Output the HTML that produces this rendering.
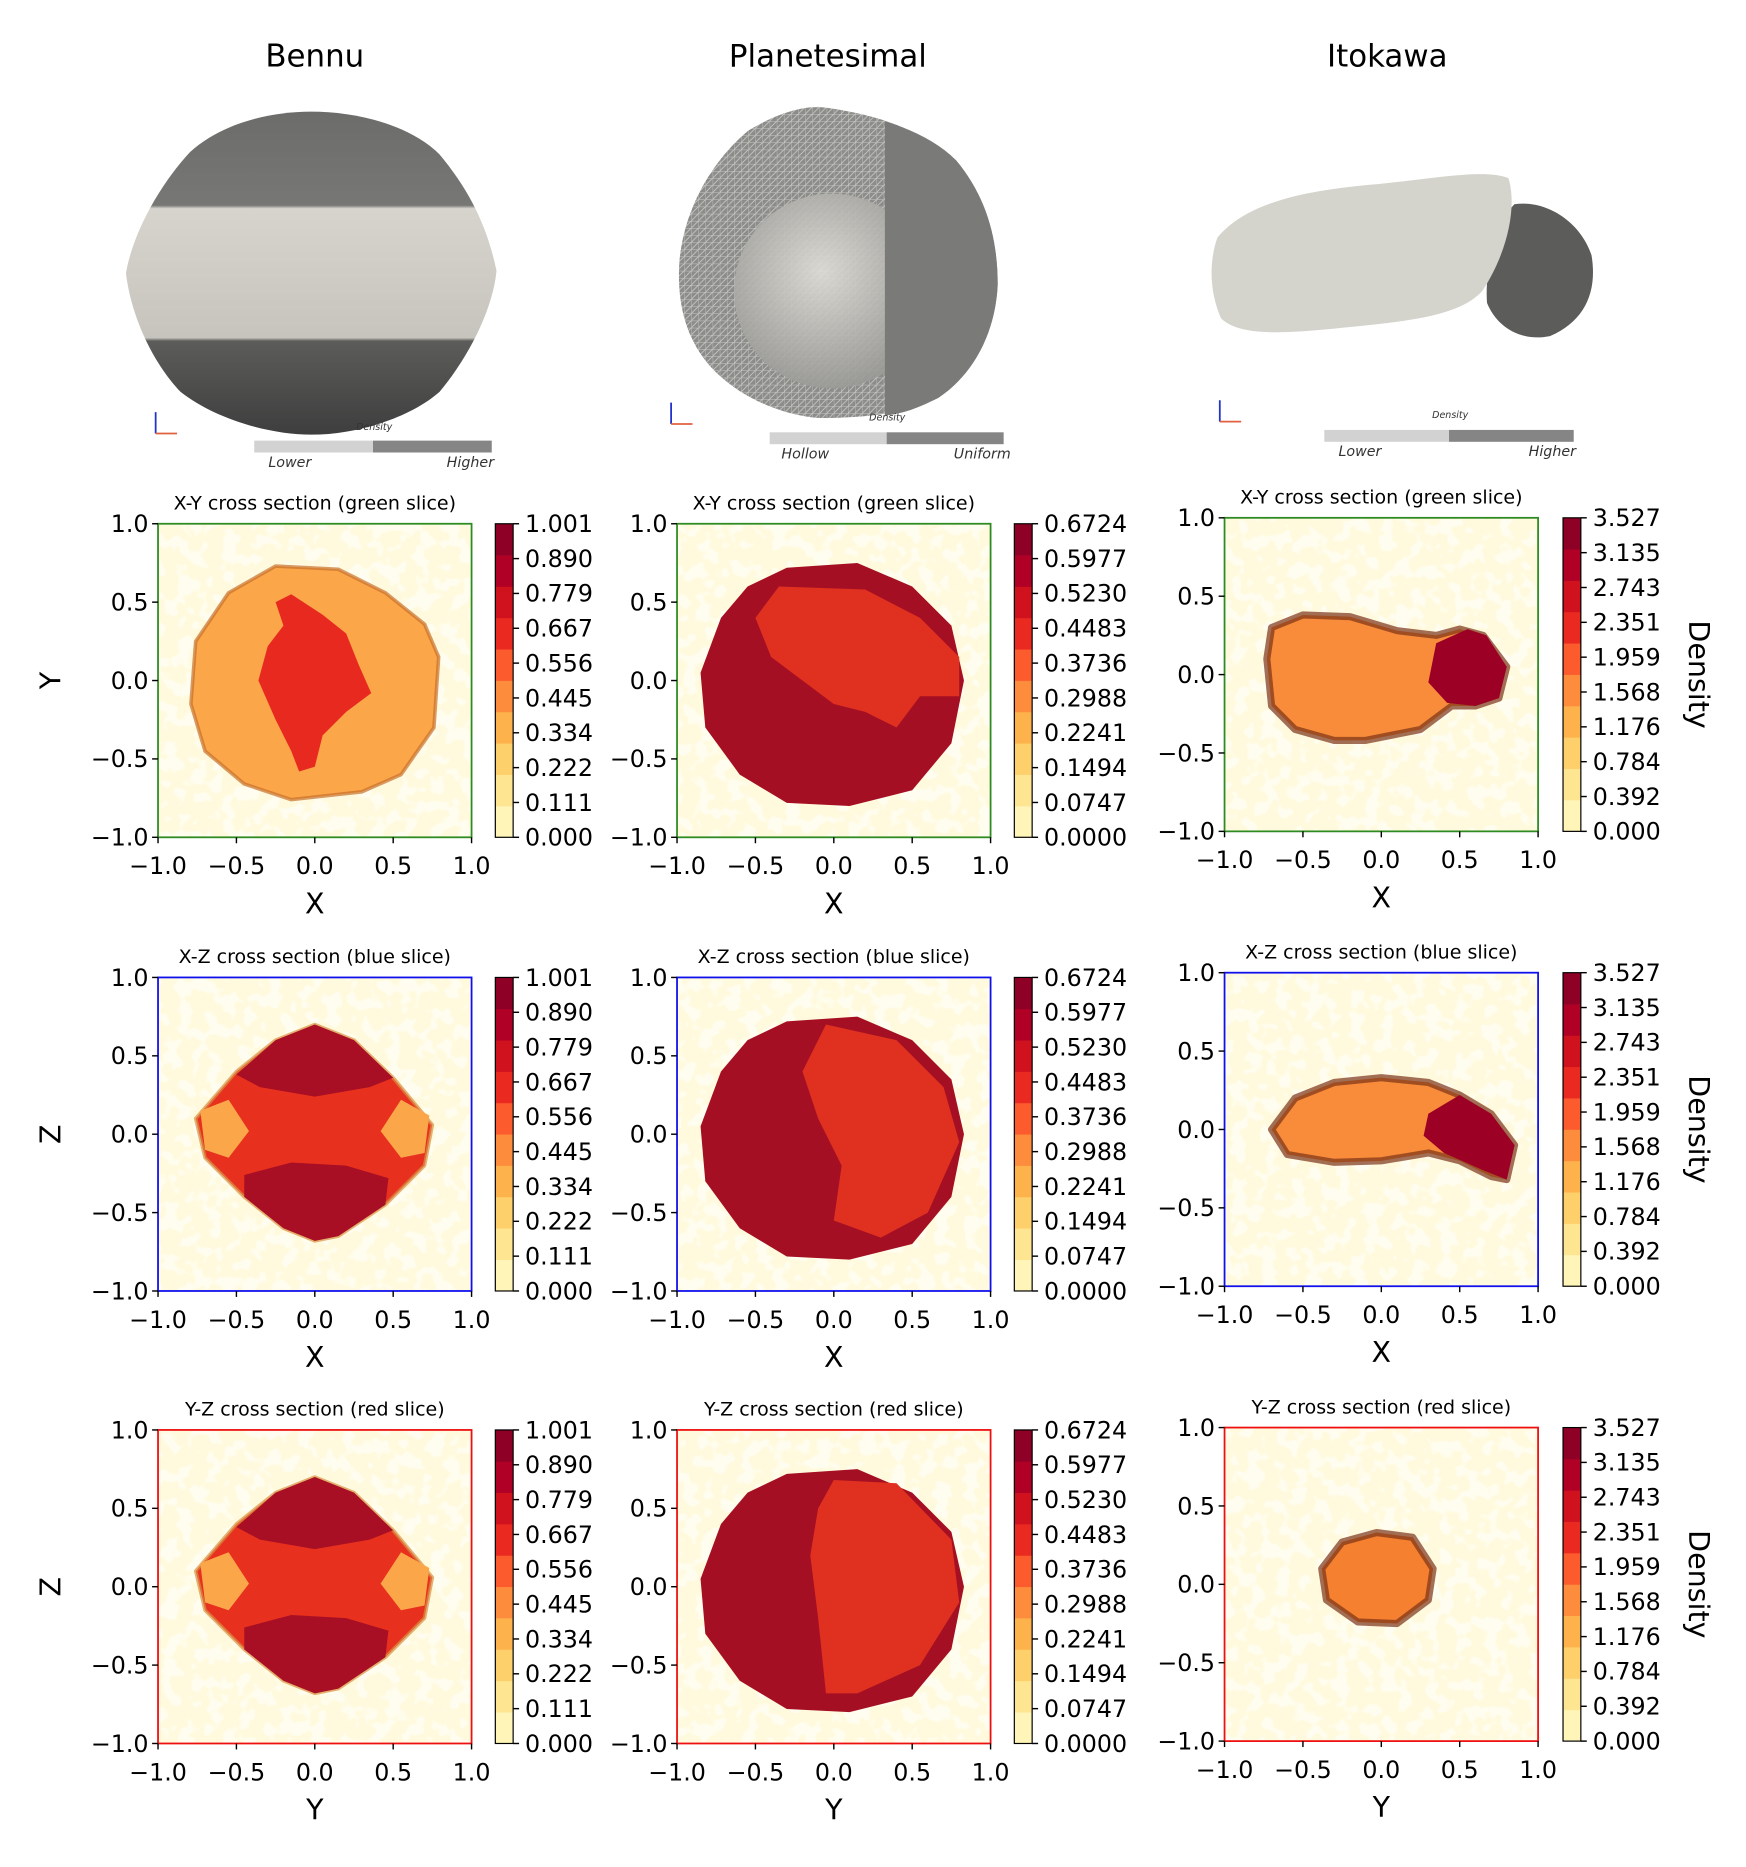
<!DOCTYPE html>
<html><head><meta charset="utf-8"><style>
html,body{margin:0;padding:0;background:#fff;}
svg{display:block;font-family:"DejaVu Sans","Liberation Sans",sans-serif;}
</style></head><body>
<svg id="fig" width="1746" height="1867" viewBox="0 0 1470 1572" xmlns="http://www.w3.org/2000/svg">
<defs>
<filter id="speck" x="0" y="0" width="1" height="1">
<feTurbulence type="fractalNoise" baseFrequency="0.08" numOctaves="2" seed="3"/>
<feColorMatrix type="matrix" values="0 0 0 0 1  0 0 0 0 0.955  0 0 0 0 0.72  0 0 0 -10 6.0"/>
</filter>
<linearGradient id="bennuG" x1="0" y1="0" x2="0" y2="1">
<stop offset="0" stop-color="#6c6c6a"/><stop offset="0.29" stop-color="#777775"/>
<stop offset="0.3" stop-color="#d6d4cc"/><stop offset="0.7" stop-color="#c6c4bc"/>
<stop offset="0.71" stop-color="#5c5c5a"/><stop offset="1" stop-color="#3e3e3e"/></linearGradient>
<radialGradient id="sphG" cx="0.45" cy="0.4" r="0.6"><stop offset="0" stop-color="#e0ded8"/><stop offset="1" stop-color="#9a9a96"/></radialGradient>
<pattern id="mesh" width="6" height="6" patternUnits="userSpaceOnUse"><rect width="6" height="6" fill="#8c8c8a"/><path d="M0 0H6M0 0V6M0 6L6 0" stroke="#c9c9c5" stroke-width="0.7"/></pattern>
</defs>
<g id="renders"></g>
<g id="plots"></g>
</svg>
<script>
// ---- data ----
const columnTitles = ["Bennu", "Planetesimal", "Itokawa"];
const axisTicks = [-1.0, -0.5, 0.0, 0.5, 1.0];
const axisTickLabels = ["\u22121.0", "\u22120.5", "0.0", "0.5", "1.0"];
const cbarBennu = ["0.000","0.111","0.222","0.334","0.445","0.556","0.667","0.779","0.890","1.001"];
const cbarPlan = ["0.0000","0.0747","0.1494","0.2241","0.2988","0.3736","0.4483","0.5230","0.5977","0.6724"];
const cbarItok = ["0.000","0.392","0.784","1.176","1.568","1.959","2.351","2.743","3.135","3.527"];
const bandColors = ["#fff5b8","#fee592","#fed06c","#feb24c","#fd8d3c","#fc5b2e","#ea2a20","#d0121f","#b00026","#8f0026"];
const sliceTitles = ["X-Y cross section (green slice)","X-Z cross section (blue slice)","Y-Z cross section (red slice)"];
const sliceFrame = ["#2e8b22","#1010ee","#ee1010"];
const xLabels = ["X","X","Y"];
const yLabels = ["Y","Z","Z"];
// shape outlines (data units)
const bennuXYOuter = [[-0.25,0.73],[0.15,0.71],[0.45,0.56],[0.7,0.36],[0.79,0.15],[0.76,-0.3],[0.55,-0.6],[0.3,-0.71],[-0.15,-0.76],[-0.45,-0.66],[-0.7,-0.45],[-0.79,-0.15],[-0.76,0.25],[-0.55,0.56]];
const bennuXYInner = [[-0.15,0.55],[0.05,0.42],[0.2,0.3],[0.28,0.1],[0.36,-0.08],[0.2,-0.2],[0.05,-0.35],[0.0,-0.55],[-0.1,-0.58],[-0.15,-0.45],[-0.25,-0.25],[-0.36,0.0],[-0.3,0.22],[-0.2,0.35],[-0.25,0.5]];
const bennuXZOuter = [[0,0.7],[0.25,0.6],[0.5,0.36],[0.75,0.06],[0.7,-0.2],[0.45,-0.45],[0.15,-0.65],[0,-0.68],[-0.2,-0.6],[-0.45,-0.4],[-0.7,-0.15],[-0.76,0.1],[-0.5,0.4],[-0.25,0.6]];
const bennuTopCap = [[0,0.7],[0.25,0.6],[0.5,0.36],[0.35,0.3],[0,0.24],[-0.35,0.3],[-0.5,0.38],[-0.25,0.6]];
const bennuBotCap = [[-0.45,-0.26],[-0.15,-0.18],[0.2,-0.2],[0.47,-0.28],[0.45,-0.45],[0.15,-0.65],[0,-0.68],[-0.2,-0.6],[-0.45,-0.4]];
const bennuLobeL = [[-0.73,0.15],[-0.55,0.22],[-0.42,0.02],[-0.55,-0.15],[-0.7,-0.1]];
const bennuLobeR = [[0.73,0.12],[0.55,0.22],[0.42,0.02],[0.55,-0.15],[0.7,-0.12]];
const planOuter = [[-0.3,0.72],[0.15,0.75],[0.5,0.6],[0.75,0.35],[0.83,0.0],[0.75,-0.4],[0.5,-0.7],[0.1,-0.8],[-0.3,-0.78],[-0.6,-0.6],[-0.82,-0.3],[-0.85,0.05],[-0.72,0.4],[-0.55,0.6]];
const planXYRed = [[-0.35,0.6],[0.2,0.58],[0.55,0.4],[0.8,0.15],[0.8,-0.1],[0.55,-0.1],[0.4,-0.3],[0.2,-0.2],[0.0,-0.15],[-0.2,0.0],[-0.4,0.15],[-0.5,0.4]];
const planXZRed = [[-0.05,0.7],[0.4,0.6],[0.7,0.3],[0.8,-0.05],[0.6,-0.5],[0.3,-0.66],[0.0,-0.55],[0.05,-0.2],[-0.1,0.1],[-0.2,0.4]];
const planYZRed = [[0.0,0.68],[0.4,0.66],[0.75,0.3],[0.8,-0.1],[0.55,-0.5],[0.15,-0.68],[-0.05,-0.68],[-0.1,-0.2],[-0.15,0.2],[-0.1,0.5]];
const itokXY = [[-0.7,0.3],[-0.5,0.38],[-0.2,0.37],[0.1,0.28],[0.35,0.25],[0.5,0.29],[0.65,0.25],[0.8,0.05],[0.75,-0.15],[0.6,-0.2],[0.45,-0.2],[0.25,-0.35],[-0.1,-0.42],[-0.3,-0.42],[-0.55,-0.35],[-0.7,-0.2],[-0.73,0.1]];
const itokXYLobe = [[0.35,0.2],[0.55,0.29],[0.67,0.25],[0.8,0.05],[0.75,-0.15],[0.6,-0.2],[0.42,-0.18],[0.3,-0.05]];
const itokXZ = [[-0.7,0.0],[-0.55,0.2],[-0.3,0.3],[0.0,0.33],[0.3,0.3],[0.5,0.22],[0.7,0.1],[0.85,-0.1],[0.8,-0.32],[0.7,-0.3],[0.5,-0.2],[0.3,-0.15],[0.0,-0.2],[-0.3,-0.21],[-0.6,-0.16]];
const itokXZLobe = [[0.3,0.1],[0.5,0.22],[0.7,0.1],[0.85,-0.1],[0.8,-0.32],[0.65,-0.26],[0.4,-0.15],[0.27,-0.04]];
const itokYZ = [[-0.03,0.33],[0.2,0.3],[0.33,0.1],[0.3,-0.1],[0.1,-0.25],[-0.15,-0.24],[-0.35,-0.1],[-0.38,0.1],[-0.25,0.27]];

// ---- layout ----
const NS = "http://www.w3.org/2000/svg";
const colX = [133, 570, 1031];
const rowY = [[441,823,1204],[441,823,1204],[436,819,1202]];
const PW = 264, PH = 264;
function mk(tag, attrs, parent){const e=document.createElementNS(NS,tag);for(const k in attrs)e.setAttribute(k,attrs[k]);parent.appendChild(e);return e;}
const R = document.getElementById("renders"), P = document.getElementById("plots");

const titleX = [265, 697, 1168];
columnTitles.forEach((t,i)=>{const e=mk("text",{x:titleX[i],y:56,"font-size":26,"text-anchor":"middle"},R);e.textContent=t;

});

function render3d(){
 const g1=mk("g",{},R);
 
 
 mk("path",{d:"M262 94 C300 94 345 105 370 130 C395 160 410 190 418 228 C415 260 395 300 370 330 C345 352 300 366 262 366 C225 366 180 352 152 330 C128 305 110 265 106 230 C112 195 135 155 160 128 C185 105 225 94 262 94 Z",fill:"url(#bennuG)"},g1);
 const g2=mk("g",{},R);
 
 
 mk("path",{d:"M690 90 C730 95 770 105 805 135 C830 165 840 200 840 240 C838 280 820 315 790 335 C760 350 720 352 690 352 C660 350 620 335 595 305 C575 280 570 250 572 220 C576 175 600 135 630 110 C650 98 670 90 690 90 Z",fill:"url(#mesh)"},g2);
 mk("circle",{cx:700,cy:245,r:82,fill:"url(#sphG)",opacity:0.9},g2);
 mk("path",{d:"M745 125 L745 102 C770 110 790 120 805 135 C830 165 840 200 840 240 C838 280 820 315 790 335 C770 345 760 348 745 350 Z",fill:"#7a7a78"},g2);
 const g3=mk("g",{},R);
 
 
 mk("path",{d:"M1275 172 C1300 168 1330 185 1340 215 C1345 245 1335 270 1305 283 C1280 288 1260 275 1252 255 C1250 230 1258 190 1275 172 Z",fill:"#5c5c5a"},g3);
 mk("path",{d:"M1025 200 C1050 170 1100 160 1160 155 C1210 150 1250 142 1270 150 C1278 175 1268 215 1248 245 C1230 265 1190 270 1140 275 C1090 280 1045 285 1028 268 C1018 245 1018 220 1025 200 Z",fill:"#d4d3cc"},g3);
 const bars=[[214,371,200,"Lower","Higher",315,362],[648,364,197,"Hollow","Uniform",747,354],[1115,362,210,"Lower","Higher",1221,352]];
 bars.forEach((b,i)=>{
  const g=mk("g",{},R);
  
  
  mk("rect",{x:b[0],y:b[1],width:b[2]/2,height:10,fill:"#d2d2d2"},g);
  mk("rect",{x:b[0]+b[2]/2,y:b[1],width:b[2]/2,height:10,fill:"#858585"},g);
  let t=mk("text",{x:b[5],y:b[6],"font-size":8,"font-style":"italic","text-anchor":"middle",fill:"#333"},g);t.textContent="Density";
  t=mk("text",{x:b[0]+30,y:b[1]+22,"font-size":12,"font-style":"italic","text-anchor":"middle",fill:"#333"},g);t.textContent=b[3];
  t=mk("text",{x:b[0]+b[2]-18,y:b[1]+22,"font-size":12,"font-style":"italic","text-anchor":"middle",fill:"#333"},g);t.textContent=b[4];
 });
 [[131,365],[565,357],[1027,355]].forEach(a=>{
  mk("path",{d:`M${a[0]} ${a[1]} V${a[1]-18}`,stroke:"#2233cc","stroke-width":1.5},R);
  mk("path",{d:`M${a[0]} ${a[1]} H${a[0]+18}`,stroke:"#e06040","stroke-width":1.5},R);
 });
}
render3d();

const shapes = [
 [ [[bennuXYOuter,"#fca64a","#c8702a"],[bennuXYInner,"#e8291f",null]],
   [[bennuXZOuter,"#e8301f","#d89040"],[bennuTopCap,"#a80f24",null],[bennuBotCap,"#a80f24",null],[bennuLobeL,"#fca64a",null],[bennuLobeR,"#fca64a",null]],
   [[bennuXZOuter,"#e8301f","#d89040"],[bennuTopCap,"#a80f24",null],[bennuBotCap,"#a80f24",null],[bennuLobeL,"#fca64a",null],[bennuLobeR,"#fca64a",null]] ],
 [ [[planOuter,"#a50f24",null],[planXYRed,"#e0301f",null]],
   [[planOuter,"#a50f24",null],[planXZRed,"#e0301f",null]],
   [[planOuter,"#a50f24",null],[planYZRed,"#e0301f",null]] ],
 [ [[itokXY,"#f98c3a","#7a3218"],[itokXYLobe,"#9c0024",null]],
   [[itokXZ,"#f98c3a","#7a3218"],[itokXZLobe,"#9c0024",null]],
   [[itokYZ,"#f5802f","#7a3218"]] ]
];
const cbars=[cbarBennu,cbarPlan,cbarItok];
const cbarGap=[20,20,21];

for(let c=0;c<3;c++){
 for(let r=0;r<3;r++){
  const x0=colX[c], y0=rowY[c][r];
  const sx=v=>x0+(v+1)/2*PW, sy=v=>y0+PH-(v+1)/2*PH;
  const g=mk("g",{},P);
  
  
  mk("rect",{x:x0,y:y0,width:PW,height:PH,fill:"#fffdf0"},g);
  mk("rect",{x:x0,y:y0,width:PW,height:PH,filter:"url(#speck)"},g);
  shapes[c][r].forEach(s=>{
   const d="M"+s[0].map(p=>sx(p[0]).toFixed(1)+" "+sy(p[1]).toFixed(1)).join(" L")+" Z";
   const e=mk("path",{d:d,fill:s[1],"stroke-linejoin":"round"},g);
   if(s[2]){e.setAttribute("stroke",s[2]);e.setAttribute("stroke-width",c==2?6:3);e.setAttribute("stroke-opacity",0.7);}
   
   
  });
  const fr=mk("rect",{x:x0,y:y0,width:PW,height:PH,fill:"none",stroke:sliceFrame[r],"stroke-width":1.5},g);
  
  
  let t=mk("text",{x:x0+PW/2,y:y0-12,"font-size":16,"text-anchor":"middle"},g);t.textContent=sliceTitles[r];
  
  
  axisTicks.forEach((v,i)=>{
   mk("line",{x1:sx(v),x2:sx(v),y1:y0+PH,y2:y0+PH+5,stroke:"#000","stroke-width":1.2},g);
   mk("line",{x1:x0,x2:x0-5,y1:sy(v),y2:sy(v),stroke:"#000","stroke-width":1.2},g);
   let a=mk("text",{x:sx(v),y:y0+PH+31,"font-size":20,"text-anchor":"middle"},g);a.textContent=axisTickLabels[i];
   
   
   let b=mk("text",{x:x0-8,y:sy(v)+7,"font-size":20,"text-anchor":"end"},g);b.textContent=axisTickLabels[i];
   
   
  });
  t=mk("text",{x:x0+PW/2,y:y0+PH+64,"font-size":24,"text-anchor":"middle"},g);t.textContent=xLabels[r];
  
  
  if(c===0){t=mk("text",{x:0,y:0,"font-size":24,"text-anchor":"middle",transform:`translate(51 ${y0+PH/2}) rotate(-90)`},g);t.textContent=yLabels[r];
   
   }
  const cx=x0+PW+cbarGap[c], cw=15, n=bandColors.length, bh=PH/n;
  const cb=mk("g",{},g);
  
  
  bandColors.forEach((col,i)=>mk("rect",{x:cx,y:y0+PH-(i+1)*bh,width:cw,height:bh+0.3,fill:col},cb));
  mk("rect",{x:cx,y:y0,width:cw,height:PH,fill:"none",stroke:"#000","stroke-width":1},cb);
  cbars[c].forEach((lab,i)=>{
   const yy=y0+PH-i*PH/(n-1);
   mk("line",{x1:cx+cw,x2:cx+cw+5,y1:yy,y2:yy,stroke:"#000","stroke-width":1.2},cb);
   const e=mk("text",{x:cx+cw+10,y:yy+7,"font-size":20},cb);e.textContent=lab;
   
   
  });
  if(c===2){const e=mk("text",{x:0,y:0,"font-size":24,"text-anchor":"middle",transform:`translate(1422 ${y0+PH/2}) rotate(90)`},cb);e.textContent="Density";
   
   }
 }
}
</script>
</body></html>
